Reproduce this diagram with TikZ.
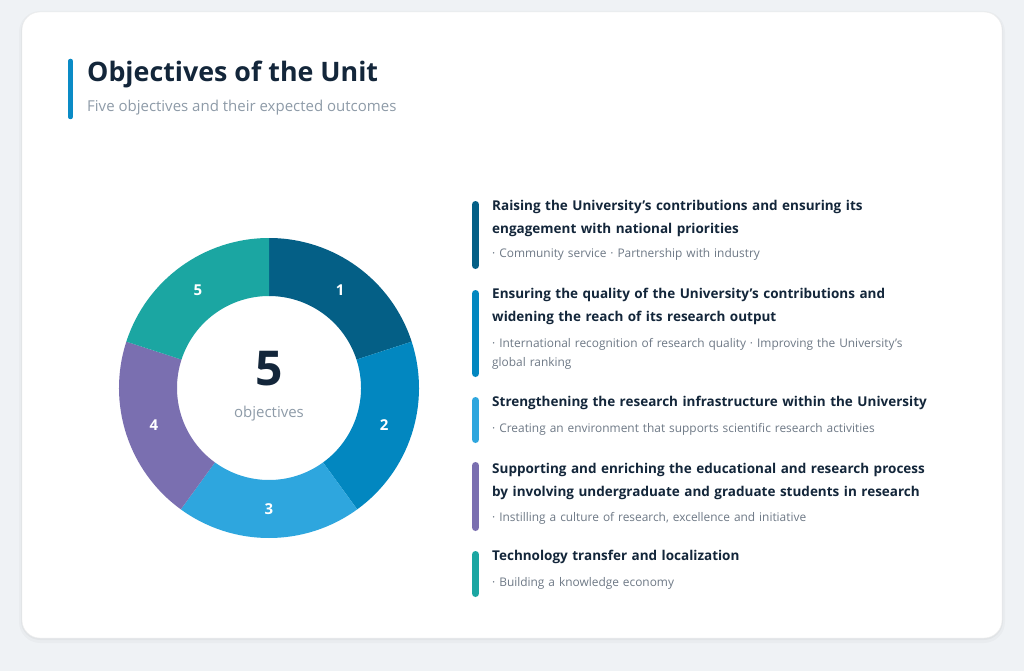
\documentclass[tikz,border=0pt]{standalone}
\usepackage{fontspec}
\setmainfont{Open Sans}
\usetikzlibrary{calc}

\definecolor{achtergrond}{HTML}{EFF2F5}
\definecolor{donker}{HTML}{13263A}
\definecolor{grijs}{HTML}{8E9BA8}
\definecolor{subgrijs}{HTML}{6E7986}
\definecolor{accent}{HTML}{0A8BC6}
\definecolor{segA}{HTML}{045F86}
\definecolor{segB}{HTML}{0287C0}
\definecolor{segC}{HTML}{2EA6DE}
\definecolor{segD}{HTML}{7A6FB0}
\definecolor{segE}{HTML}{1BA6A2}

\tikzset{
  doel/.style={anchor=base west, text width=450pt, align=left, inner sep=0pt,
    font=\fontsize{13.5}{23}\selectfont\bfseries, text=donker},
  uitkomst/.style={anchor=base west, text width=450pt, align=left, inner sep=0pt,
    font=\fontsize{11.9}{19}\selectfont, text=subgrijs},
  balk/.style={line width=7pt, line cap=round},
  getal/.style={font=\fontsize{15}{15}\selectfont\bfseries, text=white}
}

\begin{document}
\begin{tikzpicture}[x=1pt, y=-1pt]
    % Achtergrond en kaart
    \fill[achtergrond] (0,0) rectangle (1024,671);
    \fill[black, opacity=0.025, rounded corners=21pt] (19,11) rectangle (1005,643);
    \fill[black, opacity=0.03, rounded corners=19pt] (21,12) rectangle (1003,640);
    \fill[white, draw=black!7, rounded corners=18pt] (22,12) rectangle (1002,638);

    % Titel met accentstreep
    \draw[accent, line width=4.5pt, line cap=round] (70.5,61) -- (70.5,117);
    \node[anchor=base west, inner sep=0pt, font=\fontsize{26.8}{27}\selectfont\bfseries, text=donker]
      (titel) at (87,82) {Objectives of the Unit};
    \node[anchor=base west, inner sep=0pt, font=\fontsize{15}{15}\selectfont, text=grijs]
      (ondertitel) at (87,112) {Five objectives and their expected outcomes};

    % Definieer het middelpunt van de ring
    \coordinate (M) at (269,388);

    % Teken de vijf segmenten van de ring
    \fill[segA] ($(M)+(-90:150)$) arc[start angle=-90, end angle=-18, radius=150]
      -- ($(M)+(-18:92)$) arc[start angle=-18, end angle=-90, radius=92] -- cycle;
    \fill[segB] ($(M)+(-18:150)$) arc[start angle=-18, end angle=54, radius=150]
      -- ($(M)+(54:92)$) arc[start angle=54, end angle=-18, radius=92] -- cycle;
    \fill[segC] ($(M)+(54:150)$) arc[start angle=54, end angle=126, radius=150]
      -- ($(M)+(126:92)$) arc[start angle=126, end angle=54, radius=92] -- cycle;
    \fill[segD] ($(M)+(126:150)$) arc[start angle=126, end angle=198, radius=150]
      -- ($(M)+(198:92)$) arc[start angle=198, end angle=126, radius=92] -- cycle;
    \fill[segE] ($(M)+(198:150)$) arc[start angle=198, end angle=270, radius=150]
      -- ($(M)+(270:92)$) arc[start angle=270, end angle=198, radius=92] -- cycle;

    % Nummers in de segmenten
    \node[getal] (num1) at ($(M)+(-54:121)$) {1};
    \node[getal] (num2) at ($(M)+(18:121)$) {2};
    \node[getal] (num3) at ($(M)+(90:121)$) {3};
    \node[getal] (num4) at ($(M)+(162:121)$) {4};
    \node[getal] (num5) at ($(M)+(234:121)$) {5};

    % Totaal in het midden
    \node[anchor=base, inner sep=0pt, font=\fontsize{48}{48}\selectfont\bfseries, text=donker]
      (totaal) at (269,385) {5};
    \node[anchor=base, inner sep=0pt, font=\fontsize{15}{15}\selectfont, text=grijs]
      (eenheid) at (269,417) {objectives};

    % Doel 1
    \draw[balk, segA] (475.5,204.5) -- (475.5,265.5);
    \node[doel] (doel1) at (492,210) {Raising the University’s contributions and ensuring its\\engagement with national priorities};
    \node[uitkomst] (uitkomst1) at (492,257.5) {· Community service · Partnership with industry};

    % Doel 2
    \draw[balk, segB] (475.5,293.5) -- (475.5,373.5);
    \node[doel] (doel2) at (492,298) {Ensuring the quality of the University’s contributions and\\widening the reach of its research output};
    \node[uitkomst] (uitkomst2) at (492,347) {· International recognition of research quality · Improving the University’s\\global ranking};

    % Doel 3
    \draw[balk, segC] (475.5,400.5) -- (475.5,439.5);
    \node[doel] (doel3) at (492,406) {Strengthening the research infrastructure within the University};
    \node[uitkomst] (uitkomst3) at (492,432) {· Creating an environment that supports scientific research activities};

    % Doel 4
    \draw[balk, segD] (475.5,465.5) -- (475.5,527.5);
    \node[doel] (doel4) at (492,473) {Supporting and enriching the educational and research process\\by involving undergraduate and graduate students in research};
    \node[uitkomst] (uitkomst4) at (492,521) {· Instilling a culture of research, excellence and initiative};

    % Doel 5
    \draw[balk, segE] (475.5,554.5) -- (475.5,593.5);
    \node[doel] (doel5) at (492,560) {Technology transfer and localization};
    \node[uitkomst] (uitkomst5) at (492,586) {· Building a knowledge economy};

\end{tikzpicture}
\end{document}
